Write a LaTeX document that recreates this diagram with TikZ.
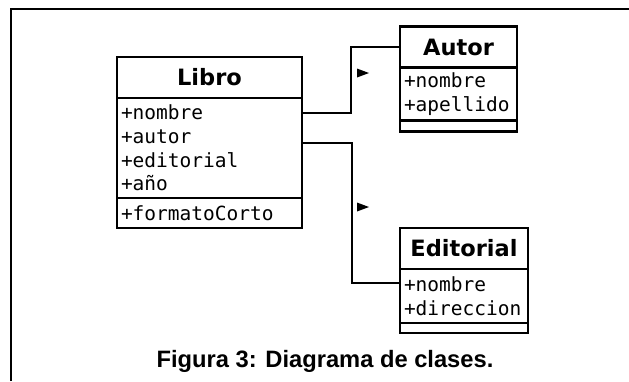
\documentclass[tikz,border=0pt]{standalone}
\usepackage{fontspec}
\usepackage{tikz}
\usetikzlibrary{positioning}
\newfontfamily\clsfont{DejaVu Sans}
\newfontfamily\attrfont{DejaVu Sans Mono}
\newfontfamily\capfont{Liberation Sans}
\tikzset{
  frame/.style={line width=2.2pt},
  clsname/.style={draw, line width=2.3pt, outer sep=0pt, inner sep=0pt, minimum height=41pt,
    font=\clsfont\bfseries\fontsize{22.5}{27}\selectfont},
  clsbody/.style={draw, line width=2.3pt, outer sep=0pt, inner xsep=4pt, inner ysep=0pt,
    align=left, font=\attrfont\fontsize{19.5}{23.7}\selectfont},
  assoc/.style={line width=2.3pt},
  caption/.style={font=\capfont\bfseries\fontsize{23.7}{28}\selectfont, anchor=base},
}
% id, position, width, title, attributes, attr height, methods, method height
\newcommand{\umlclass}[8]{%
  \node[clsname, minimum width=#3pt] (#1) at (#2) {#4};
  \node[clsbody, minimum width=#3pt, text width=#3pt-8pt, minimum height=#6pt,
    below=0pt of #1] (#1-att) {#5};
  \node[clsbody, minimum width=#3pt, text width=#3pt-8pt, minimum height=#8pt,
    below=0pt of #1-att] (#1-met) {#7};}
\newcommand{\navmark}[1]{\fill (#1) ++(0,-4.5) -- ++(12,4.5) -- ++(-12,4.5) -- cycle;}

\begin{document}
\begin{tikzpicture}[x=1pt,y=-1pt]
  \useasboundingbox (0,0) rectangle (629,381);
  \draw[frame] (11,381) -- (11,9) -- (629,9);
  \umlclass{libro}{209.5,77.5}{185}{Libro}{+nombre\\+autor\\+editorial\\+año}{100}{+formatoCorto}{30}
  \umlclass{autor}{458.5,47}{117}{Autor}{+nombre\\+apellido}{53}{}{11}
  \umlclass{editorial}{464,248.5}{128}{Editorial}{+nombre\\+direccion}{54}{}{10}
  \draw[assoc] ([yshift=-15pt]libro-att.north east) -- ++(49,0) |- (autor.west);
  \draw[assoc] ([yshift=-45pt]libro-att.north east) -- ++(50,0) |- ([yshift=-14pt]editorial-att.north west);
  \navmark{357,73}
  \navmark{357,207}
  \node[caption] (cap) at (325,367) {Figura 3: Diagrama de clases.};
\end{tikzpicture}
\end{document}
